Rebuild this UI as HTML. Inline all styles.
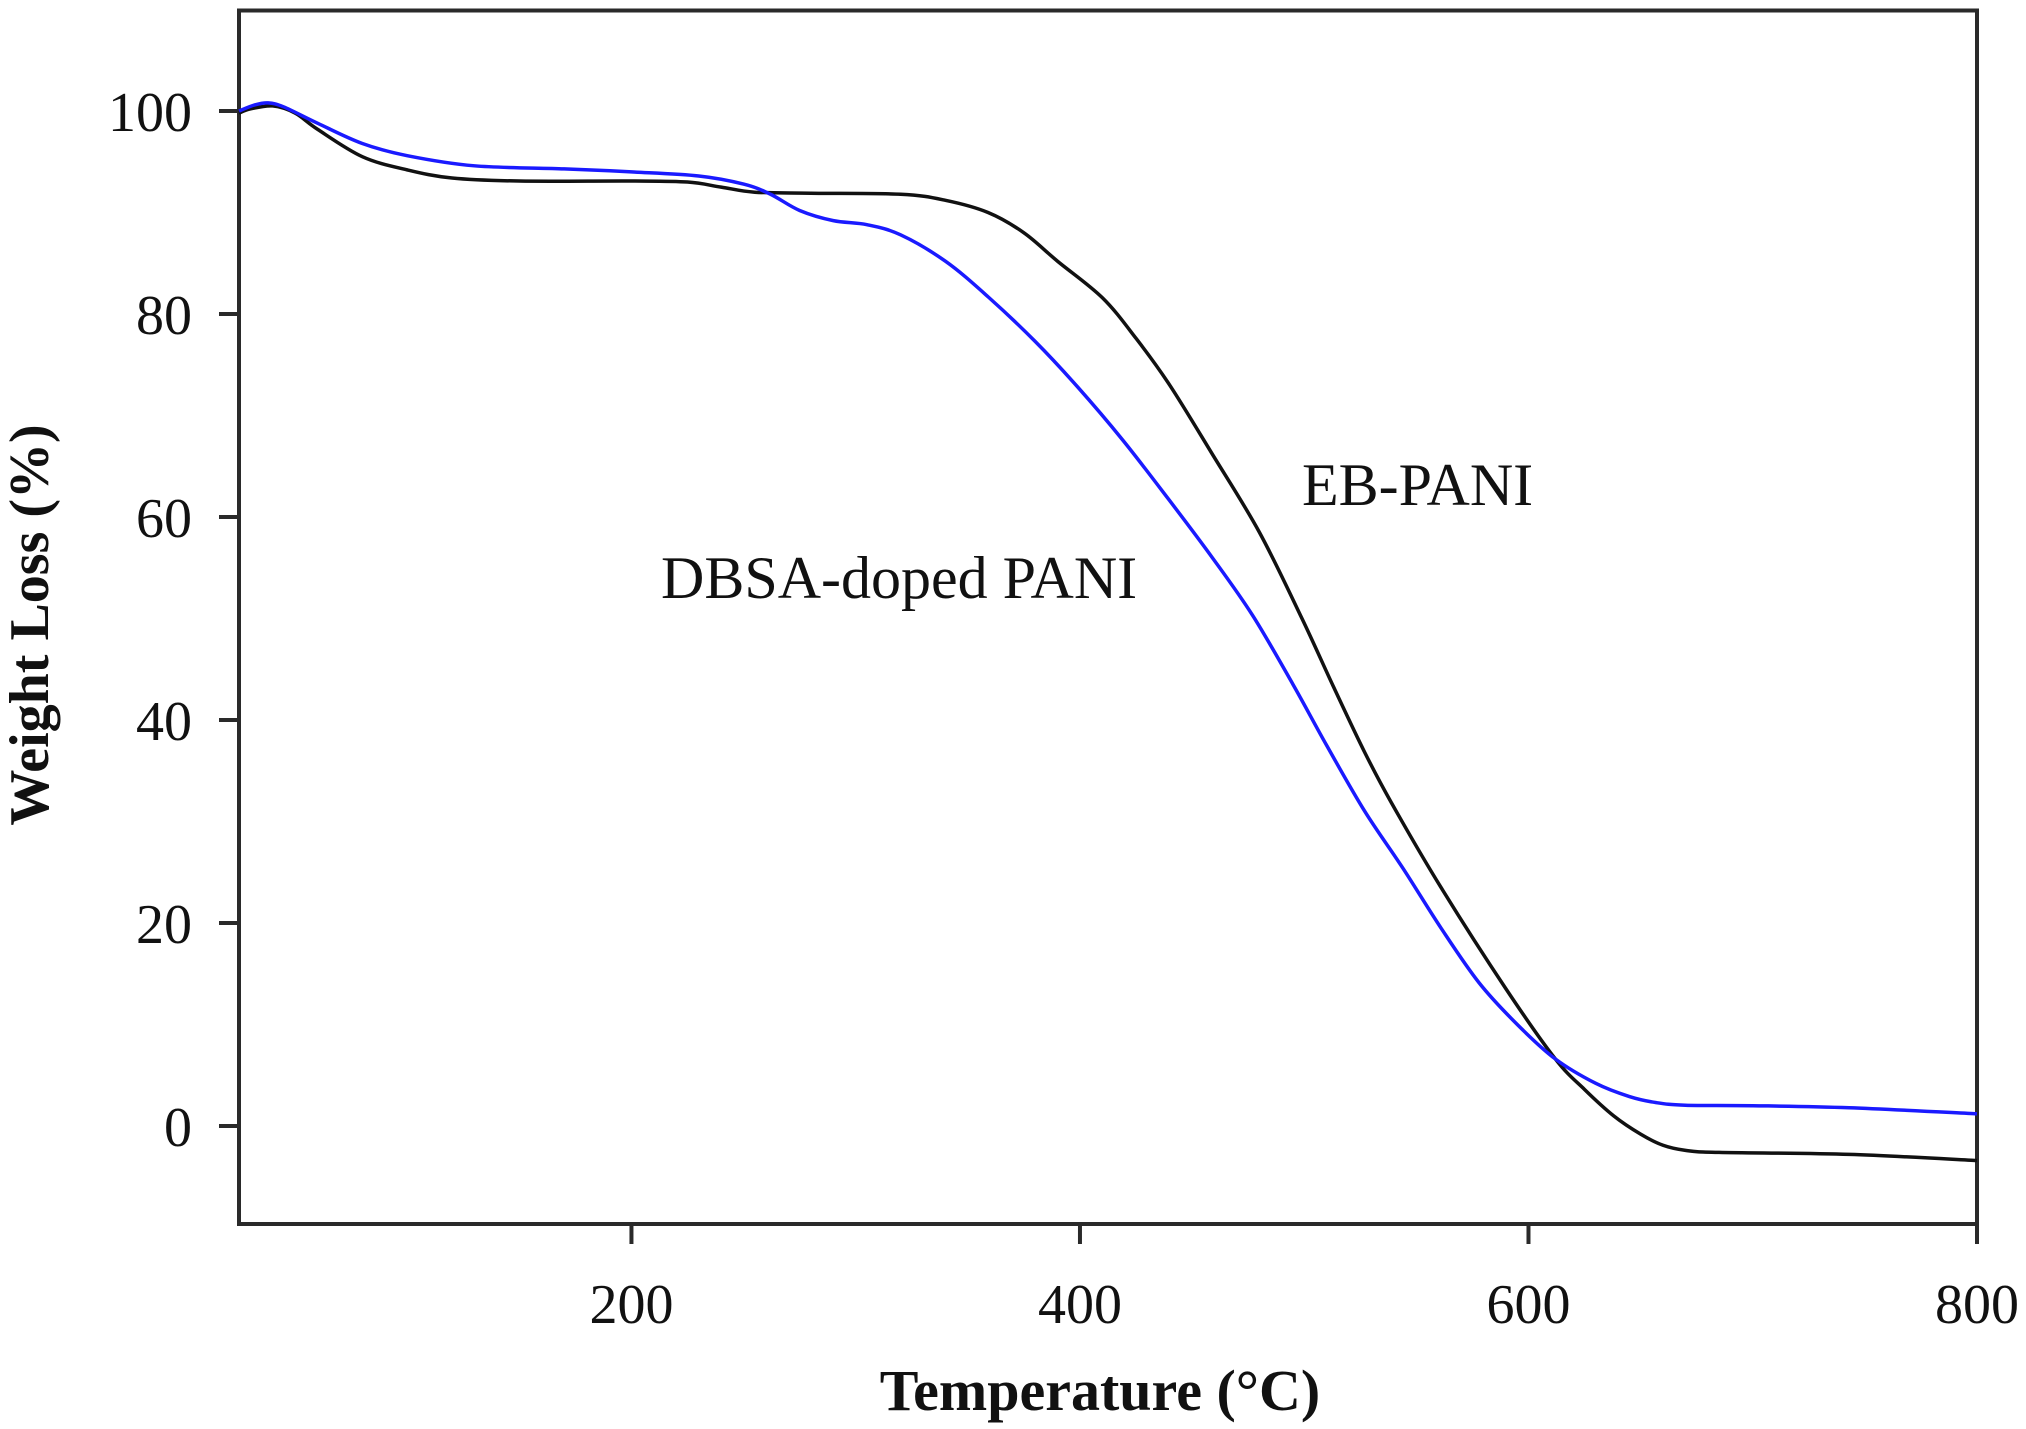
<!DOCTYPE html>
<html><head><meta charset="utf-8"><style>
html,body{margin:0;padding:0;background:#fff;}
svg{display:block;}
text{font-family:"Liberation Serif",serif;fill:#111;}
</style></head><body>
<svg id="chart" width="2026" height="1429" viewBox="0 0 2026 1429">
<rect x="239" y="10.5" width="1738" height="1213.5" fill="none" stroke="#2a2a2a" stroke-width="4"/>
<g id="ticks"></g>
<g id="series"></g>
<text x="1100" y="1410" font-size="58" font-weight="bold" text-anchor="middle">Temperature (°C)</text>
<text transform="translate(48,625) rotate(-90)" font-size="56" font-weight="bold" text-anchor="middle">Weight Loss (%)</text>
<text x="1302" y="505" font-size="60">EB-PANI</text>
<text x="661" y="598" font-size="60">DBSA-doped PANI</text>
</svg>
<script>
const xTicks=[200,400,600,800];
const yTicks=[0,20,40,60,80,100];
const ebT=[25,30,40,50,60,80,100,120,150,200,225,240,255,280,320,340,359,375,390,410,425,440,459,480,499,513,527,539,561,590,612,625,638,650,660,670,685,743,800];
const ebW=[99.8,100.2,100.5,99.8,98.2,95.5,94.2,93.4,93.1,93.1,93,92.5,92,91.9,91.8,91.2,90,88,85.2,81.6,77.6,73,66.2,58.5,50,43.3,36.8,31.8,23.5,13.5,6.6,3.6,1,-0.8,-1.9,-2.4,-2.6,-2.8,-3.4];
const dbT=[25,32,38,45,60,80,100,130,170,200,230,250,262,275,290,305,320,340,359,380,399,419,439,459,477,495,510,527,544,561,578,595,612,630,645,657,670,700,743,800];
const dbW=[100,100.6,100.8,100.4,98.8,96.8,95.6,94.6,94.3,94,93.6,92.8,91.8,90.2,89.2,88.8,87.8,85.2,81.7,77.3,72.8,67.6,61.9,56,50.3,43.5,37.5,31,25.4,19.5,14.1,10,6.6,4.2,2.9,2.3,2.05,2,1.8,1.2];
const X=v=>239+(v-25)*(1977-239)/775;
const Y=v=>1126-v*10.15;
const NS='http://www.w3.org/2000/svg';
const tg=document.getElementById('ticks');
xTicks.forEach(t=>{
  const l=document.createElementNS(NS,'line');
  l.setAttribute('x1',X(t));l.setAttribute('x2',X(t));l.setAttribute('y1',1224);l.setAttribute('y2',1244);
  l.setAttribute('stroke','#2a2a2a');l.setAttribute('stroke-width','4');
  
  
  tg.appendChild(l);
  const tx=document.createElementNS(NS,'text');
  tx.setAttribute('x',X(t));tx.setAttribute('y',1323);tx.setAttribute('font-size','56');tx.setAttribute('text-anchor','middle');
  tx.textContent=t;
  
  
  tg.appendChild(tx);
});
yTicks.forEach(t=>{
  const l=document.createElementNS(NS,'line');
  l.setAttribute('x1',219);l.setAttribute('x2',239);l.setAttribute('y1',Y(t));l.setAttribute('y2',Y(t));
  l.setAttribute('stroke','#2a2a2a');l.setAttribute('stroke-width','4');
  
  
  tg.appendChild(l);
  const tx=document.createElementNS(NS,'text');
  tx.setAttribute('x',192);tx.setAttribute('y',Y(t)+20);tx.setAttribute('font-size','56');tx.setAttribute('text-anchor','end');
  tx.textContent=t;
  
  
  tg.appendChild(tx);
});
function pathFor(ts,ws){
  const p=ts.map((t,i)=>[X(t),Y(ws[i])]);
  let d='M'+p[0][0]+','+p[0][1];
  for(let i=0;i<p.length-1;i++){
    const p0=p[Math.max(0,i-1)],p1=p[i],p2=p[i+1],p3=p[Math.min(p.length-1,i+2)];
    const c1=[p1[0]+(p2[0]-p0[0])/6,p1[1]+(p2[1]-p0[1])/6];
    const c2=[p2[0]-(p3[0]-p1[0])/6,p2[1]-(p3[1]-p1[1])/6];
    d+=' C'+c1+' '+c2+' '+p2;
  }
  return d;
}
const sg=document.getElementById('series');
const e=document.createElementNS(NS,'path');
e.setAttribute('d',pathFor(ebT,ebW));e.setAttribute('fill','none');e.setAttribute('stroke','#111');e.setAttribute('stroke-width','3.5');


sg.appendChild(e);
const b=document.createElementNS(NS,'path');
b.setAttribute('d',pathFor(dbT,dbW));b.setAttribute('fill','none');b.setAttribute('stroke','#1a1aff');b.setAttribute('stroke-width','3.5');


sg.appendChild(b);
</script>
</body></html>
